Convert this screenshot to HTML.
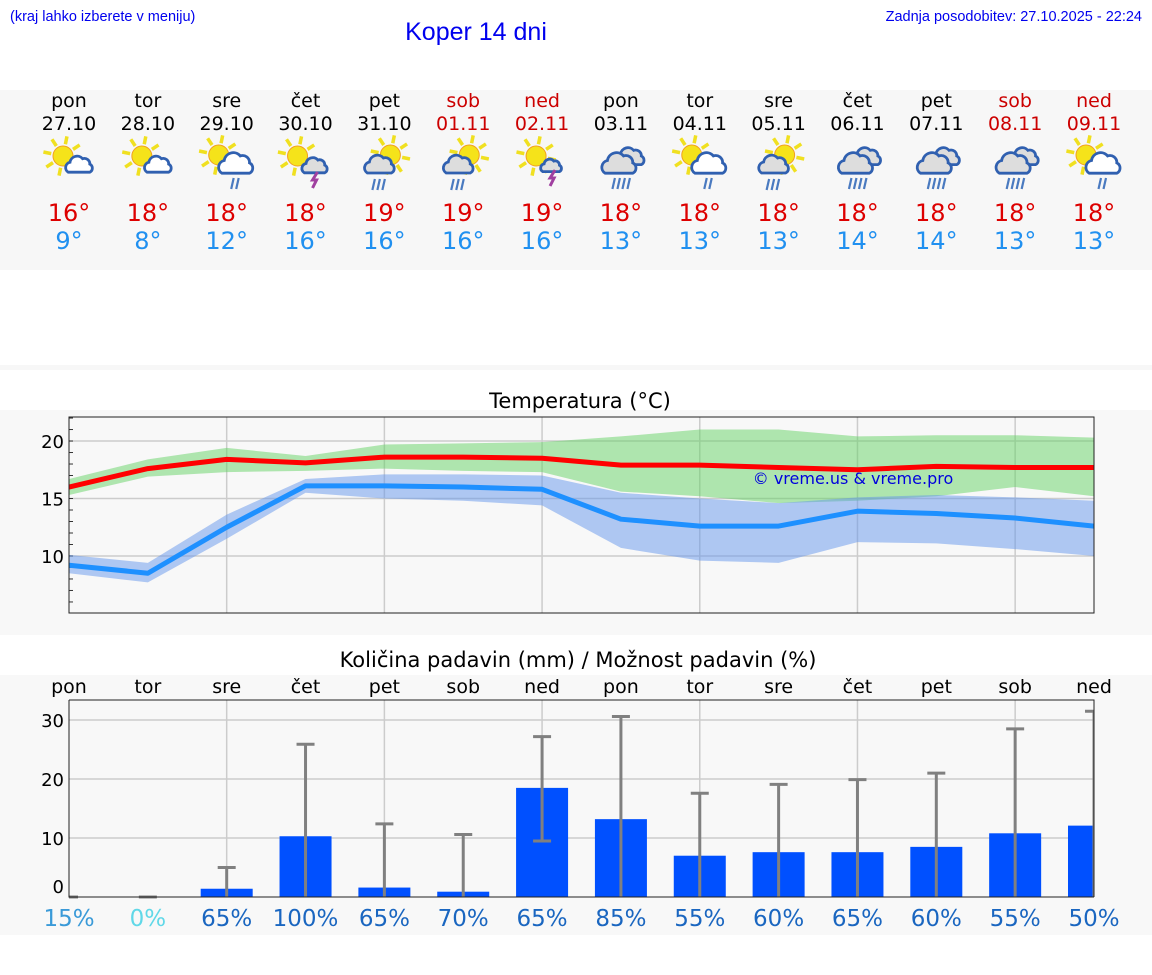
<!DOCTYPE html>
<html><head><meta charset="utf-8">
<style>
html,body{margin:0;padding:0;background:#fff;width:1152px;height:975px;overflow:hidden}
svg{display:block}
text{font-family:"DejaVu Sans","Liberation Sans",sans-serif}
</style></head>
<body>
<svg id="page" width="1152" height="975" viewBox="0 0 1152 975" xmlns="http://www.w3.org/2000/svg">
  <defs>
    <clipPath id="pclip"><rect x="69" y="695" width="1025" height="205"/></clipPath>
    <clipPath id="tclip"><rect x="69" y="417" width="1025" height="196"/></clipPath>
  </defs>
  <text x="10" y="21" font-size="14.5" fill="#0000ee" style="font-family:'Liberation Sans',sans-serif">(kraj lahko izberete v meniju)</text>
  <text x="476" y="40" font-size="25" fill="#0000ee" text-anchor="middle" style="font-family:'Liberation Sans',sans-serif">Koper 14 dni</text>
  <text x="1142" y="21" font-size="14.5" fill="#0000ee" text-anchor="end" style="font-family:'Liberation Sans',sans-serif">Zadnja posodobitev: 27.10.2025 - 22:24</text>
  <rect x="0" y="90" width="1152" height="180" fill="#f7f7f7"/>
  <rect x="0" y="365" width="1152" height="5" fill="#f7f7f7"/>
  <g id="strip"></g>
  <rect x="0" y="410" width="1152" height="225" fill="#f8f8f8"/>
  <text x="580" y="408" font-size="21" text-anchor="middle" fill="#000">Temperatura (°C)</text>
  <g id="temp"></g>
  <rect x="0" y="675" width="1152" height="260" fill="#f8f8f8"/>
  <text x="578" y="667" font-size="21" text-anchor="middle" fill="#000">Količina padavin (mm) / Možnost padavin (%)</text>
  <g id="prec"></g>
</svg>
<script>
const days=["pon","tor","sre","čet","pet","sob","ned","pon","tor","sre","čet","pet","sob","ned"];
const dates=["27.10","28.10","29.10","30.10","31.10","01.11","02.11","03.11","04.11","05.11","06.11","07.11","08.11","09.11"];
const weekend=[0,0,0,0,0,1,1,0,0,0,0,0,1,1];
const icons=["sc","sc","scr","sct","csr","csr","st","ccr","scr","csr","ccr","ccr","ccr","scr"];
const maxT=[16,18,18,18,19,19,19,18,18,18,18,18,18,18];
const minT=[9,8,12,16,16,16,16,13,13,13,14,14,13,13];
const redLine=[16.0,17.6,18.4,18.1,18.6,18.6,18.5,17.9,17.9,17.7,17.5,17.8,17.7,17.7];
const greenHi=[16.7,18.4,19.4,18.7,19.7,19.8,19.9,20.4,21.0,21.0,20.4,20.5,20.5,20.3];
const greenLo=[15.3,16.9,17.3,17.4,17.6,17.4,17.3,15.6,15.2,14.6,14.8,15.2,16.0,15.2];
const blueLine=[9.2,8.5,12.5,16.1,16.1,16.0,15.8,13.2,12.6,12.6,13.9,13.7,13.3,12.6];
const blueHi=[10.1,9.4,13.6,16.7,17.1,17.1,17.0,15.5,15.0,14.6,15.1,15.3,15.1,14.8];
const blueLo=[8.5,7.7,11.5,15.5,15.0,14.8,14.4,10.7,9.6,9.4,11.2,11.1,10.6,10.0];
const tempTicks=[10,15,20];
const precip=[0,0,1.4,10.3,1.6,0.9,18.5,13.2,7.0,7.6,7.6,8.5,10.8,12.1];
const errHi=[0,0,5.0,25.9,12.4,10.6,27.2,30.6,17.6,19.1,19.9,21.0,28.5,31.5];
const errLo=[0,0,0,0,0,0,9.5,0,0,0,0,0,0,0];
const chance=[15,0,65,100,65,70,65,85,55,60,65,60,55,50];
const precTicks=[0,10,20,30];

const NS="http://www.w3.org/2000/svg";
function mk(parent,tag,attrs,txt){const e=document.createElementNS(NS,tag);for(const k in attrs)e.setAttribute(k,attrs[k]);if(txt!==undefined)e.textContent=txt;parent.appendChild(e);return e;}
const X0=69,X1=1094;
const xs=i=>X0+(X1-X0)*i/13;

const strip=document.getElementById('strip');
function sun(g,cx,cy,r){
  for(let k=0;k<8;k++){const a=k*Math.PI/4+0.2;
    const l=mk(g,'line',{x1:cx+Math.cos(a)*(r+2),y1:cy+Math.sin(a)*(r+2),x2:cx+Math.cos(a)*(r+10),y2:cy+Math.sin(a)*(r+10),stroke:'#f0e020','stroke-width':3.5});
    }
  const c=mk(g,'circle',{cx:cx,cy:cy,r:r,fill:'#f5e31a',stroke:'#f0a020','stroke-width':1});
  
}
function cloud(g,cx,cy,s,fill){
  const p=mk(g,'path',{d:`M${cx-12*s},${cy+8*s} a${6*s},${6*s} 0 0 1 ${2*s},${-11*s} a${8*s},${8*s} 0 0 1 ${14*s},${-4*s} a${6*s},${6*s} 0 0 1 ${8*s},${6*s} a${5*s},${5*s} 0 0 1 ${0},${9*s} z`,fill:fill,stroke:'#3060b0','stroke-width':2.8});
  
}
function rain(g,cx,cy,n){
  for(let k=0;k<n;k++){const l=mk(g,'line',{x1:cx+k*5-(n-1)*2.5+1.5,y1:cy,x2:cx+k*5-(n-1)*2.5-1,y2:cy+11,stroke:'#4a7ac0','stroke-width':2.2});
    }
}
function bolt(g,cx,cy){
  const p=mk(g,'path',{d:`M${cx+2},${cy} L${cx-3},${cy+8} L${cx+1},${cy+8} L${cx-3},${cy+16}`,fill:'none',stroke:'#a040a0','stroke-width':3});
  
}
days.forEach((d,i)=>{
  const x=xs(i);const col=weekend[i]?'#cc0000':'#000';
  const g=mk(strip,'g',{});
  
  
  let t=mk(g,'text',{x:x,y:107,'font-size':19,'text-anchor':'middle',fill:col},d);
  
  t=mk(g,'text',{x:x,y:130,'font-size':19,'text-anchor':'middle',fill:col},dates[i]);
  
  const ig=mk(g,'g',{});
  
  const ty=icons[i];
  if(ty==='sc'){sun(ig,x-6,156,10);cloud(ig,x+10,165,0.9,'#fff');}
  else if(ty==='scr'){sun(ig,x-8,155,10);cloud(ig,x+9,164,1.15,'#fff');rain(ig,x+8,178,2);}
  else if(ty==='sct'){sun(ig,x-8,156,10);cloud(ig,x+9,166,0.85,'#ddd');bolt(ig,x+10,172);}
  else if(ty==='st'){sun(ig,x-6,156,10);cloud(ig,x+9,166,0.7,'#ddd');bolt(ig,x+11,170);}
  else if(ty==='csr'){sun(ig,x+6,155,10);cloud(ig,x-5,165,1,'#ddd');rain(ig,x-6,179,3);}
  else {cloud(ig,x+9,157,0.95,'#ddd');cloud(ig,x-2,164,1.15,'#ddd');rain(ig,x,178,4);}
  t=mk(g,'text',{x:x,y:221,'font-size':24,'text-anchor':'middle',fill:'#dd0000'},maxT[i]+'°');
  
  t=mk(g,'text',{x:x,y:249,'font-size':24,'text-anchor':'middle',fill:'#2090f0'},minT[i]+'°');
  
});

const tg=document.getElementById('temp');
const TY0=417,TY1=613,TMIN=5.04,TMAX=22.09;
const ty=v=>TY1-(v-TMIN)/(TMAX-TMIN)*(TY1-TY0);
let r=mk(tg,'rect',{x:X0,y:TY0,width:X1-X0,height:TY1-TY0,fill:'#f8f8f8'});

tempTicks.forEach(v=>{const l=mk(tg,'line',{x1:X0,x2:X1,y1:ty(v),y2:ty(v),stroke:'#ccc','stroke-width':1.5});
  
  const t=mk(tg,'text',{x:64,y:ty(v)+7,'font-size':18,'text-anchor':'end',fill:'#000'},v);
  });
for(let v=6;v<=22;v++){const l=mk(tg,'line',{x1:X0,x2:X0+4,y1:ty(v),y2:ty(v),stroke:'#333','stroke-width':1});
  }
for(let i=2;i<13;i+=2){const l=mk(tg,'line',{x1:xs(i),x2:xs(i),y1:TY0,y2:TY1,stroke:'#ccc','stroke-width':1.5});
  }
const tc=mk(tg,'g',{'clip-path':'url(#tclip)'});
function band(hi,lo,fill,name){
  let d='M'+hi.map((v,i)=>xs(i)+','+ty(v)).join(' L');
  d+=' L'+lo.map((v,i)=>xs(i)+','+ty(v)).reverse().join(' L')+' Z';
  const p=mk(tc,'path',{d:d,fill:fill});
  
}
function line(vals,col,name){
  const p=mk(tc,'polyline',{points:vals.map((v,i)=>xs(i)+','+ty(v)).join(' '),fill:'none',stroke:col,'stroke-width':5,'stroke-linejoin':'round'});
  
}
band(greenHi,greenLo,'rgba(100,210,100,0.5)','max-temp-range');
band(blueHi,blueLo,'rgba(100,150,235,0.5)','min-temp-range');
line(redLine,'#ff0000','max-temp-line');
line(blueLine,'#1e90ff','min-temp-line');
let fr=mk(tg,'rect',{x:X0,y:TY0,width:X1-X0,height:TY1-TY0,fill:'none',stroke:'#222','stroke-width':1});

let wm=mk(tg,'text',{x:853,y:484,'font-size':16,'text-anchor':'middle',fill:'#0000dd'},'© vreme.us & vreme.pro');


const pg=document.getElementById('prec');
const PY0=700,PY1=897,PMAX=33.4;
const py=v=>PY1-v/PMAX*(PY1-PY0);
r=mk(pg,'rect',{x:X0,y:PY0,width:X1-X0,height:PY1-PY0,fill:'#f8f8f8'});

precTicks.forEach(v=>{if(v>0){const l=mk(pg,'line',{x1:X0,x2:X1,y1:py(v),y2:py(v),stroke:'#ccc','stroke-width':1.5});
  }
  const t=mk(pg,'text',{x:64,y:(v===0?py(v)-4:py(v)+7),'font-size':18,'text-anchor':'end',fill:'#000'},v);
  });
for(let i=2;i<13;i+=2){const l=mk(pg,'line',{x1:xs(i),x2:xs(i),y1:PY0,y2:PY1,stroke:'#ccc','stroke-width':1.5});
  }
const pc=mk(pg,'g',{'clip-path':'url(#pclip)'});
days.forEach((d,i)=>{
  const x=xs(i);
  const t=mk(pg,'text',{x:x,y:693,'font-size':19,'text-anchor':'middle',fill:'#000'},d);
  
  if(precip[i]>0){const b=mk(pc,'rect',{x:x-26,y:py(precip[i]),width:52,height:PY1-py(precip[i]),fill:'#0050ff'});
    }
  const eg=mk(pc,'g',{});
  
  if(errHi[i]>0){
    mk(eg,'line',{x1:x,x2:x,y1:py(errHi[i]),y2:py(errLo[i]),stroke:'#808080','stroke-width':3});
    mk(eg,'line',{x1:x-9,x2:x+9,y1:py(errHi[i]),y2:py(errHi[i]),stroke:'#808080','stroke-width':3});
    if(errLo[i]>0)mk(eg,'line',{x1:x-9,x2:x+9,y1:py(errLo[i]),y2:py(errLo[i]),stroke:'#808080','stroke-width':3});
  } else {
    mk(eg,'line',{x1:x-9,x2:x+9,y1:PY1,y2:PY1,stroke:'#808080','stroke-width':3});
  }
  const c=chance[i];const col=c===0?'#60d8e8':(c<30?'#3a9ad8':'#1a66c0');
  const p=mk(pg,'text',{x:x,y:926,'font-size':23,'text-anchor':'middle',fill:col},c+'%');
  
});
const ax=mk(pg,'path',{d:`M${X0},${PY0} L${X0},${PY1} L${X1},${PY1} M${X0},${PY0} L${X1},${PY0} L${X1},${PY1}`,fill:'none',stroke:'#222','stroke-width':1});

</script>
</body></html>
